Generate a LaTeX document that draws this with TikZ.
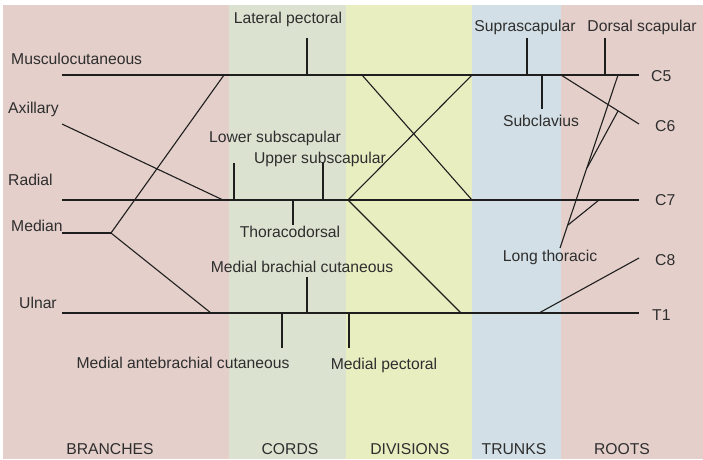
\documentclass[tikz,border=0pt]{standalone}
\usepackage{fontspec}
\setmainfont{Liberation Sans}
\definecolor{bgpink}{HTML}{E4CFCA}
\definecolor{bggreen}{HTML}{DCE2D0}
\definecolor{bgyellow}{HTML}{E8EEC0}
\definecolor{bgblue}{HTML}{D3DFE6}
\definecolor{txt}{HTML}{2E2E2E}
\definecolor{ln}{HTML}{1E1E1E}
\begin{document}
\begin{tikzpicture}[x=1pt,y=-1pt,
  lbl/.style={inner sep=0pt,font=\fontsize{15.7}{18}\selectfont,text=txt},
  nerve/.style={draw=ln,line width=1.1pt}]
\useasboundingbox (0,0) rectangle (703,459);
\fill[white] (0,0) rectangle (703,459);
% column bands
\fill[bgpink]   (3,5) rectangle (229,459);
\fill[bggreen]  (229,5) rectangle (346,459);
\fill[bgyellow] (346,5) rectangle (472,459);
\fill[bgblue]   (472,5) rectangle (561,459);
\fill[bgpink]   (561,5) rectangle (703,459);

% column titles
\node[lbl,anchor=base] (tBr) at (110,454) {BRANCHES};
\node[lbl,anchor=base] (tCo) at (290,454) {CORDS};
\node[lbl,anchor=base] (tDi) at (410,454) {DIVISIONS};
\node[lbl,anchor=base] (tTr) at (514,454) {TRUNKS};
\node[lbl,anchor=base] (tRo) at (622,454) {ROOTS};

% nerve labels
\node[lbl,anchor=base west] (musc) at (11,64) {Musculocutaneous};
\node[lbl,anchor=base west] (axil) at (8,113) {Axillary};
\node[lbl,anchor=base west] (radi) at (8,185) {Radial};
\node[lbl,anchor=base west] (medi) at (11,231) {Median};
\node[lbl,anchor=base west] (ulna) at (19,308) {Ulnar};
\node[lbl,anchor=base] (latp) at (288,23) {Lateral pectoral};
\node[lbl,anchor=base] (lsub) at (275,142) {Lower subscapular};
\node[lbl,anchor=base] (usub) at (320,163) {Upper subscapular};
\node[lbl,anchor=base] (thor) at (290,237) {Thoracodorsal};
\node[lbl,anchor=base] (mbc) at (302,272) {Medial brachial cutaneous};
\node[lbl,anchor=base] (mac) at (183,368) {Medial antebrachial cutaneous};
\node[lbl,anchor=base] (medp) at (384,369) {Medial pectoral};
\node[lbl,anchor=base] (supr) at (525,31) {Suprascapular};
\node[lbl,anchor=base] (dors) at (642,31) {Dorsal scapular};
\node[lbl,anchor=base] (subc) at (541,126) {Subclavius};
\node[lbl,anchor=base] (long) at (550,261) {Long thoracic};
\node[lbl,anchor=base west] (c5) at (651,81) {C5};
\node[lbl,anchor=base west] (c6) at (655,131) {C6};
\node[lbl,anchor=base west] (c7) at (655,205) {C7};
\node[lbl,anchor=base west] (c8) at (655,265) {C8};
\node[lbl,anchor=base west] (t1) at (652,320) {T1};

% coordinates
\coordinate (aL) at (62,75);   \coordinate (aR) at (639,75);
\coordinate (bL) at (62,200);  \coordinate (bR) at (639,200);
\coordinate (cL) at (62,313);  \coordinate (cR) at (639,313);
\coordinate (mA) at (224,75);  \coordinate (mJ) at (111,233);
\coordinate (mL) at (62,233);  \coordinate (mU) at (211,313);
\coordinate (xA) at (62,124);  \coordinate (xB) at (223,200);
\coordinate (lp1) at (307,38); \coordinate (lp2) at (307,75);
\coordinate (ls1) at (234,163);\coordinate (ls2) at (234,200);
\coordinate (us1) at (323,163);\coordinate (us2) at (323,200);
\coordinate (td1) at (293,200);\coordinate (td2) at (293,225);
\coordinate (mb1) at (307,277);\coordinate (mb2) at (307,313);
\coordinate (ma1) at (282,313);\coordinate (ma2) at (282,348);
\coordinate (mp1) at (349,313);\coordinate (mp2) at (349,348);
\coordinate (d1) at (362,75);  \coordinate (d2) at (472,200);
\coordinate (d3) at (348,200); \coordinate (d4) at (472,75);
\coordinate (d5) at (461,313);
\coordinate (ss1) at (527,38); \coordinate (ss2) at (527,75);
\coordinate (sc1) at (542,75); \coordinate (sc2) at (542,109);
\coordinate (c8a) at (539,313);\coordinate (c8b) at (639,258);
\coordinate (ds1) at (605,38); \coordinate (ds2) at (605,75);
\coordinate (c6a) at (561,75); \coordinate (c6b) at (639,124);
\coordinate (lt1) at (618,75); \coordinate (lt2) at (560,248);
\coordinate (lt3) at (618,111);\coordinate (lt4) at (587,168);
\coordinate (lt5) at (599,200);\coordinate (lt6) at (568,225);

% nerves
\draw[nerve] (aL) -- (aR);
\draw[nerve] (bL) -- (bR);
\draw[nerve] (cL) -- (cR);
\draw[nerve] (mA) -- (mJ) -- (mU);
\draw[nerve] (mL) -- (mJ);
\draw[nerve] (xA) -- (xB);
\draw[nerve] (lp1) -- (lp2);
\draw[nerve] (ls1) -- (ls2);
\draw[nerve] (us1) -- (us2);
\draw[nerve] (td1) -- (td2);
\draw[nerve] (mb1) -- (mb2);
\draw[nerve] (ma1) -- (ma2);
\draw[nerve] (mp1) -- (mp2);
\draw[nerve] (d1) -- (d2);
\draw[nerve] (d4) -- (d3) -- (d5);
\draw[nerve] (ss1) -- (ss2);
\draw[nerve] (sc1) -- (sc2);
\draw[nerve] (c8a) -- (c8b);
\draw[nerve] (ds1) -- (ds2);
\draw[nerve] (c6a) -- (c6b);
\draw[nerve] (lt1) -- (lt2);
\draw[nerve] (lt3) -- (lt4);
\draw[nerve] (lt5) -- (lt6);
\end{tikzpicture}
\end{document}
